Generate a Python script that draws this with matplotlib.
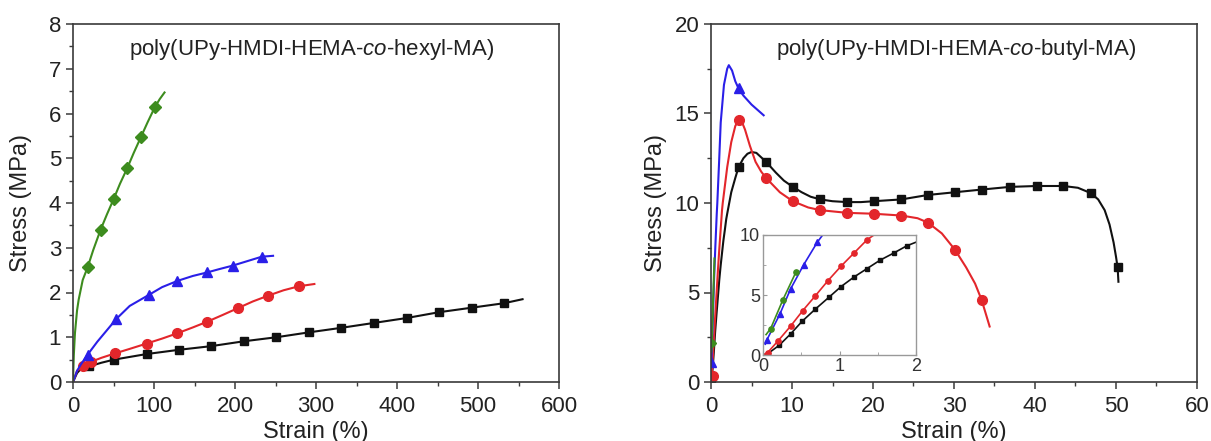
import matplotlib
matplotlib.use("Agg")
import matplotlib.pyplot as plt
from matplotlib.ticker import MultipleLocator

plt.rcParams['font.family'] = ['Liberation Sans', 'DejaVu Sans']
plt.rcParams['mathtext.fontset'] = 'custom'
plt.rcParams['mathtext.rm'] = 'Liberation Sans'
plt.rcParams['mathtext.it'] = 'Liberation Sans:italic'

# ---------------- Left panel: hexyl-MA ----------------
hex_green_x = [0, 1, 2.4, 5, 7, 12, 18, 25, 34, 42, 50, 58, 67, 75, 84, 92, 101, 107, 113]
hex_green_y = [0, 0.6, 1.09, 1.6, 1.84, 2.28, 2.56, 2.95, 3.40, 3.75, 4.08, 4.43, 4.78, 5.12, 5.48, 5.80, 6.14, 6.32, 6.47]
hex_green_mx = [18, 34, 50, 67, 84, 101]
hex_green_my = [2.56, 3.40, 4.08, 4.78, 5.48, 6.14]

hex_blue_x = [0, 5, 10, 18, 30, 42, 53.5, 70, 94, 110, 129, 148, 166, 180, 197, 215, 233, 247]
hex_blue_y = [0, 0.25, 0.40, 0.61, 0.90, 1.16, 1.41, 1.70, 1.95, 2.12, 2.26, 2.37, 2.45, 2.52, 2.60, 2.70, 2.80, 2.82]
hex_blue_mx = [18, 53.5, 94, 129, 166, 197, 233]
hex_blue_my = [0.61, 1.41, 1.95, 2.26, 2.45, 2.60, 2.80]

hex_red_x = [0, 5, 11.8, 22, 35, 52, 70, 91, 110, 129, 148, 166, 185, 203.5, 222, 241, 260, 279, 298]
hex_red_y = [0, 0.25, 0.36, 0.45, 0.54, 0.64, 0.74, 0.86, 0.97, 1.09, 1.22, 1.35, 1.50, 1.65, 1.80, 1.93, 2.05, 2.14, 2.19]
hex_red_mx = [11.8, 22, 52, 91, 129, 166, 203.5, 241, 279]
hex_red_my = [0.36, 0.45, 0.64, 0.86, 1.09, 1.35, 1.65, 1.93, 2.14]

hex_black_x = [0, 5, 10, 20, 35, 50.6, 91, 131, 170, 211, 251, 291.5, 331, 371.5, 412, 452, 492, 532, 555]
hex_black_y = [0, 0.20, 0.30, 0.35, 0.43, 0.50, 0.625, 0.72, 0.80, 0.91, 1.00, 1.11, 1.21, 1.32, 1.43, 1.56, 1.66, 1.76, 1.85]
hex_black_mx = [20, 50.6, 91, 131, 170, 211, 251, 291.5, 331, 371.5, 412, 452, 492, 532]
hex_black_my = [0.35, 0.50, 0.625, 0.72, 0.80, 0.91, 1.00, 1.11, 1.21, 1.32, 1.43, 1.56, 1.66, 1.76]

# ---------------- Right panel: butyl-MA ----------------
but_black_x = [0, 0.06, 0.21, 0.36, 0.51, 0.68, 0.86, 1.02, 1.19, 1.36, 1.53, 1.71, 1.88, 2.0, 2.5, 3.0, 3.4, 4.0, 4.5,
               5.0, 5.6, 6.2, 6.8, 8.0, 9.0, 10.1, 11.2, 12.3, 13.5, 15, 16.8, 18.5, 20.1, 23.5, 26.8, 30.1, 33.4, 36.9,
               40.2, 43.5, 45.3, 46.9, 47.8, 48.6, 49.2, 49.7, 50.0, 50.2, 50.3]
but_black_y = [0, 0.1, 0.8, 1.75, 2.8, 3.8, 4.8, 5.7, 6.5, 7.2, 7.9, 8.5, 9.1, 9.4, 10.6, 11.4, 12.0, 12.5, 12.75,
               12.85, 12.8, 12.55, 12.3, 11.7, 11.25, 10.9, 10.6, 10.35, 10.2, 10.1, 10.05, 10.05, 10.1, 10.2, 10.45, 10.6,
               10.75, 10.9, 10.95, 10.95, 10.85, 10.55, 10.2, 9.6, 8.8, 7.8, 7.0, 6.4, 5.6]
but_black_mx = [0.06, 3.4, 6.8, 10.1, 13.5, 16.8, 20.1, 23.5, 26.8, 30.1, 33.4, 36.9, 40.2, 43.5, 46.9, 50.2]
but_black_my = [0.1, 12.0, 12.3, 10.9, 10.2, 10.05, 10.1, 10.2, 10.45, 10.6, 10.75, 10.9, 10.95, 10.95, 10.55, 6.4]

but_red_x = [0, 0.06, 0.2, 0.36, 0.52, 0.68, 0.85, 1.02, 1.19, 1.36, 1.45, 2.0, 2.5, 3.0, 3.4, 3.8, 4.2, 4.8, 5.5, 6.2,
             6.8, 8.5, 10.1, 12, 13.5, 16.8, 20.1, 23.5, 25.5, 26.8, 28.5, 30.1, 31.5, 32.6, 33.4, 34.0, 34.4]
but_red_y = [0, 0.2, 1.2, 2.4, 3.7, 4.9, 6.2, 7.4, 8.5, 9.6, 10.0, 12.0, 13.4, 14.3, 14.65, 14.55, 14.1, 13.2, 12.3, 11.75,
             11.4, 10.6, 10.1, 9.75, 9.6, 9.45, 9.4, 9.3, 9.15, 8.9, 8.3, 7.4, 6.4, 5.5, 4.6, 3.7, 3.1]
but_red_mx = [0.2, 3.4, 6.8, 10.1, 13.5, 16.8, 20.1, 23.5, 26.8, 30.1, 33.4]
but_red_my = [0.35, 14.65, 11.4, 10.1, 9.6, 9.45, 9.4, 9.3, 8.9, 7.4, 4.6]

but_blue_x = [0.03, 0.05, 0.22, 0.36, 0.53, 0.71, 0.78, 1.0, 1.2, 1.6, 2.0, 2.2, 2.6, 3.0, 3.4, 4.0, 5.0, 6.5]
but_blue_y = [0.9, 1.25, 3.4, 5.5, 7.5, 9.4, 10.0, 12.3, 14.5, 16.6, 17.5, 17.7, 17.4, 16.8, 16.4, 16.0, 15.5, 14.9]
but_blue_mx = [0.05, 3.4]
but_blue_my = [1.1, 16.4]

but_green_x = [0.04, 0.1, 0.26, 0.43]
but_green_y = [1.7, 2.2, 4.6, 6.9]
but_green_mx = [0.1]
but_green_my = [2.2]

# inset markers (first 2 % strain)
ins_green_mx = [0.1, 0.26, 0.43]
ins_green_my = [2.2, 4.6, 6.9]
ins_blue_mx = [0.05, 0.22, 0.36, 0.53, 0.71]
ins_blue_my = [1.25, 3.4, 5.5, 7.5, 9.4]
ins_red_mx = [0.06, 0.2, 0.36, 0.52, 0.68, 0.85, 1.02, 1.19, 1.36]
ins_red_my = [0.2, 1.2, 2.4, 3.7, 4.9, 6.2, 7.4, 8.5, 9.6]
ins_black_mx = [0.06, 0.21, 0.36, 0.51, 0.68, 0.86, 1.02, 1.19, 1.36, 1.53, 1.71, 1.88]
ins_black_my = [0.1, 0.8, 1.75, 2.8, 3.8, 4.8, 5.7, 6.5, 7.2, 7.9, 8.5, 9.1]

C_BLACK = '#111111'
C_RED = '#e3262b'
C_BLUE = '#2a1fe8'
C_GREEN = '#3d8c1e'
SPINE = '#3a3a3a'
TXT = '#222222'

fig = plt.figure(figsize=(12.11, 4.41), dpi=100)
axL = fig.add_axes([73/1211, 59/441, 486/1211, 358/441])
axR = fig.add_axes([711/1211, 59/441, 486/1211, 358/441])
axI = fig.add_axes([763/1211, 86/441, 153/1211, 120/441])

LW = 1.5
MS = 6.0


def style_main(ax, ypad):
    for s in ax.spines.values():
        s.set_color(SPINE)
        s.set_linewidth(1.2)
    ax.tick_params(which='both', direction='out', top=False, right=False,
                   labelsize=16, colors=SPINE, labelcolor=TXT)
    ax.tick_params(which='major', length=5, width=1.1)
    ax.tick_params(which='minor', length=3, width=1.0)
    ax.tick_params(axis='x', which='major', pad=5)
    ax.set_xlabel('Strain (%)', fontsize=17, color=TXT, labelpad=3)
    ax.set_ylabel('Stress (MPa)', fontsize=17, color=TXT, labelpad=ypad)


# Left panel
axL.plot(hex_black_x, hex_black_y, color=C_BLACK, lw=LW)
axL.plot(hex_black_mx, hex_black_my, 's', color=C_BLACK, ms=MS)
axL.plot(hex_red_x, hex_red_y, color=C_RED, lw=LW)
axL.plot(hex_red_mx, hex_red_my, 'o', color=C_RED, ms=MS + 1)
axL.plot(hex_blue_x, hex_blue_y, color=C_BLUE, lw=LW)
axL.plot(hex_blue_mx, hex_blue_my, '^', color=C_BLUE, ms=MS + 1)
axL.plot(hex_green_x, hex_green_y, color=C_GREEN, lw=LW)
axL.plot(hex_green_mx, hex_green_my, 'D', color=C_GREEN, ms=MS)
axL.set_xlim(0, 600)
axL.set_ylim(0, 8)
axL.xaxis.set_major_locator(MultipleLocator(100))
axL.xaxis.set_minor_locator(MultipleLocator(50))
axL.yaxis.set_major_locator(MultipleLocator(1))
axL.yaxis.set_minor_locator(MultipleLocator(0.5))
style_main(axL, 12)
axL.text(0.49, 0.93, r'poly(UPy-HMDI-HEMA-$\mathit{co}$-hexyl-MA)', transform=axL.transAxes,
         ha='center', va='center', fontsize=16, color=TXT)

# Right panel
axR.plot(but_black_x, but_black_y, color=C_BLACK, lw=LW)
axR.plot(but_black_mx, but_black_my, 's', color=C_BLACK, ms=MS)
axR.plot(but_red_x, but_red_y, color=C_RED, lw=LW)
axR.plot(but_red_mx, but_red_my, 'o', color=C_RED, ms=MS + 1)
axR.plot(but_blue_x, but_blue_y, color=C_BLUE, lw=LW)
axR.plot(but_blue_mx, but_blue_my, '^', color=C_BLUE, ms=MS + 1)
axR.plot(but_green_x, but_green_y, color=C_GREEN, lw=LW)
axR.plot(but_green_mx, but_green_my, 'D', color=C_GREEN, ms=MS - 2)
axR.set_xlim(0, 60)
axR.set_ylim(0, 20)
axR.xaxis.set_major_locator(MultipleLocator(10))
axR.xaxis.set_minor_locator(MultipleLocator(5))
axR.yaxis.set_major_locator(MultipleLocator(5))
axR.yaxis.set_minor_locator(MultipleLocator(2.5))
style_main(axR, 5)
axR.text(0.504, 0.93, r'poly(UPy-HMDI-HEMA-$\mathit{co}$-butyl-MA)', transform=axR.transAxes,
         ha='center', va='center', fontsize=16, color=TXT)

# Inset
IMS = 3.2
ILW = 1.2
axI.plot(but_black_x, but_black_y, color=C_BLACK, lw=ILW)
axI.plot(ins_black_mx, ins_black_my, 's', color=C_BLACK, ms=IMS)
axI.plot(but_red_x, but_red_y, color=C_RED, lw=ILW)
axI.plot(ins_red_mx, ins_red_my, 'o', color=C_RED, ms=IMS + 0.6)
axI.plot(but_blue_x, but_blue_y, color=C_BLUE, lw=ILW)
axI.plot(ins_blue_mx, ins_blue_my, '^', color=C_BLUE, ms=IMS + 0.8)
axI.plot(but_green_x, but_green_y, color=C_GREEN, lw=ILW)
axI.plot(ins_green_mx, ins_green_my, 'o', color=C_GREEN, ms=IMS + 0.6)
axI.set_xlim(0, 2)
axI.set_ylim(0, 10)
axI.xaxis.set_major_locator(MultipleLocator(1))
axI.xaxis.set_minor_locator(MultipleLocator(0.5))
axI.yaxis.set_major_locator(MultipleLocator(5))
axI.yaxis.set_minor_locator(MultipleLocator(2.5))
for s in axI.spines.values():
    s.set_color('#999999')
    s.set_linewidth(1.0)
axI.tick_params(which='both', direction='in', top=False, right=False,
                labelsize=13, colors='#999999', labelcolor='#333333', pad=2)
axI.tick_params(which='major', length=3)
axI.tick_params(which='minor', length=2)

fig.savefig('out.png', dpi=100)
